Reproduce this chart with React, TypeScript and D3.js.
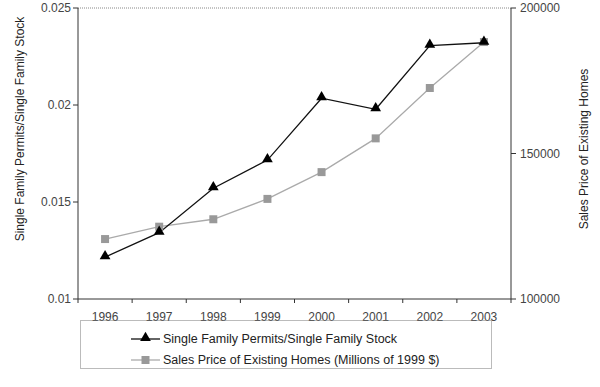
import React from "react";
import * as d3 from "d3";

const years = ["1996", "1997", "1998", "1999", "2000", "2001", "2002", "2003"];
const permitsRatio = [0.01216, 0.01342, 0.01571, 0.01716, 0.02035, 0.01978, 0.02306, 0.02321];
const salesPrice = [120600, 124850, 127400, 134400, 143600, 155200, 172500, 188300];
const leftTicks = [0.01, 0.015, 0.02, 0.025];
const rightTicks = [100000, 150000, 200000];

const W = 600;
const H = 387;
const left = 78;
const right = 511;
const top = 8;
const bottom = 299;
const font = "Liberation Sans, Arial, sans-serif";

const App = () => {
  const x = d3.scaleBand().domain(years).range([left, right]);
  const yL = d3.scaleLinear().domain([0.01, 0.025]).range([bottom, top]);
  const yR = d3.scaleLinear().domain([100000, 200000]).range([bottom, top]);
  const cx = (d: string) => (x(d) as number) + x.bandwidth() / 2;

  const lineL = d3
    .line<number>()
    .x((d, i) => cx(years[i]))
    .y((d) => yL(d));
  const lineR = d3
    .line<number>()
    .x((d, i) => cx(years[i]))
    .y((d) => yR(d));

  const tri = d3.symbol().type(d3.symbolTriangle).size(50)();
  const sq = d3.symbol().type(d3.symbolSquare).size(64)();

  const bounds = [...years.map((y) => x(y) as number), right];

  return (
    <svg width={W} height={H} style={{ position: "absolute", left: 0, top: 0 }} fontFamily={font}>
      <rect width={W} height={H} fill="#fff" />
      {/* frame */}
      <line x1={left} x2={right} y1={top} y2={top} stroke="#888" strokeDasharray="1,1" />
      <line x1={left} x2={right} y1={bottom} y2={bottom} stroke="#333" />
      <line x1={left} x2={left} y1={top} y2={bottom} stroke="#333" />
      <line x1={right} x2={right} y1={top} y2={bottom} stroke="#333" />

      {/* left axis */}
      {leftTicks.map((t) => (
        <g key={t}>
          <line x1={left - 5} x2={left} y1={yL(t)} y2={yL(t)} stroke="#333" />
          <text x={left - 7} y={yL(t) + 4} textAnchor="end" fontSize={12} fill="#444">
            {String(t)}
          </text>
        </g>
      ))}
      {/* right axis */}
      {rightTicks.map((t) => (
        <g key={t}>
          <line x1={right} x2={right + 5} y1={yR(t)} y2={yR(t)} stroke="#333" />
          <text x={right + 9} y={yR(t) + 4} textAnchor="start" fontSize={12} fill="#444">
            {t}
          </text>
        </g>
      ))}
      {/* x axis */}
      {bounds.map((b, i) => (
        <line key={i} x1={b} x2={b} y1={bottom} y2={bottom + 4} stroke="#333" />
      ))}
      {years.map((y) => (
        <text key={y} x={cx(y)} y={321} textAnchor="middle" fontSize={12} fill="#444">
          {y}
        </text>
      ))}

      {/* axis titles */}
      <text transform="translate(24,129) rotate(-90)" textAnchor="middle" fontSize={12} fill="#222">
        Single Family Permits/Single Family Stock
      </text>
      <text transform="translate(588,149) rotate(-90)" textAnchor="middle" fontSize={12} fill="#222">
        Sales Price of Existing Homes
      </text>

      {/* series */}
      <path d={lineR(salesPrice) as string} fill="none" stroke="#aaa" strokeWidth={1.3} />
      <path d={lineL(permitsRatio) as string} fill="none" stroke="#111" strokeWidth={1.3} />
      {salesPrice.map((v, i) => (
        <path key={i} d={sq as string} transform={`translate(${cx(years[i])},${yR(v)})`} fill="#999" />
      ))}
      {permitsRatio.map((v, i) => (
        <path key={i} d={tri as string} transform={`translate(${cx(years[i])},${yL(v) - 1})`} fill="#000" />
      ))}

      {/* legend */}
      <rect x={80.5} y={320.5} width={411} height={48} fill="none" stroke="#777" strokeDasharray="1,1" />
      <line x1={131} x2={160} y1={339} y2={339} stroke="#111" strokeWidth={1.3} />
      <path d={tri as string} transform="translate(145.5,338)" fill="#000" />
      <text x={163} y={343} fontSize={12.5} fill="#222">
        Single Family Permits/Single Family Stock
      </text>
      <line x1={131} x2={160} y1={360} y2={360} stroke="#aaa" strokeWidth={1.3} />
      <path d={sq as string} transform="translate(145.5,360)" fill="#999" />
      <text x={163} y={364} fontSize={12.5} fill="#222">
        Sales Price of Existing Homes (Millions of 1999 $)
      </text>
    </svg>
  );
};

export default App;
